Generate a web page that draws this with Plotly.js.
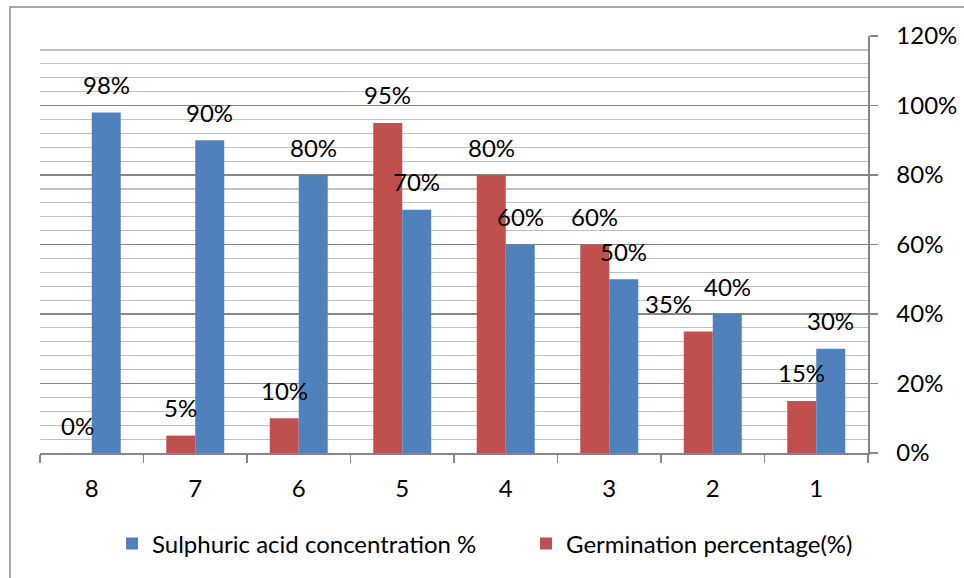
<!DOCTYPE html>
<html>
<head>
<meta charset="utf-8">
<script src="https://cdn.plot.ly/plotly-3.0.1.min.js"></script>
<style>
  html, body { margin: 0; padding: 0; background: #ffffff; }
  #chart { width: 964px; height: 578px; }
</style>
</head>
<body>
<div id="chart"></div>
<script>
// ---- data ----
const categories = ['8', '7', '6', '5', '4', '3', '2', '1'];
const germination = [0, 0.05, 0.10, 0.95, 0.80, 0.60, 0.35, 0.15];
const sulphuric = [0.98, 0.90, 0.80, 0.70, 0.60, 0.50, 0.40, 0.30];
const germinationName = 'Germination percentage(%)';
const sulphuricName = 'Sulphuric acid concentration %';
const yTickValues = [0, 0.2, 0.4, 0.6, 0.8, 1.0, 1.2];

// ---- style ----
const FONT = 'Lato, Open Sans, sans-serif';
const FS = 24;
const RED = '#C0504D';
const BLUE = '#4F81BD';
const BARGAP = 0.44;
const W = 964, H = 578;
const M = { l: 40, r: 96, t: 36, b: 125 };
const PW = W - M.l - M.r, PH = H - M.t - M.b;
const px2x = p => (p - M.l) / PW;
const px2y = p => (H - M.b - p) / PH;

const traces = [
  {
    type: 'bar', name: germinationName, x: categories, y: germination,
    marker: { color: RED }, legend: 'legend2', hoverinfo: 'x+y'
  },
  {
    type: 'bar', name: sulphuricName, x: categories, y: sulphuric,
    marker: { color: BLUE }, legend: 'legend', hoverinfo: 'x+y'
  }
];

// data labels above each bar
const off = (1 - BARGAP) / 4;
const annotations = [];
const pct = v => Math.round(v * 100) + '%';
categories.forEach((c, i) => {
  annotations.push({
    x: i - off, y: germination[i], xref: 'x', yref: 'y',
    text: pct(germination[i]), showarrow: false,
    xanchor: 'center', yanchor: 'middle', yshift: 28,
    xshift: (c === '2') ? -30 : 0,
    font: { family: FONT, size: FS, color: '#000' }
  });
  annotations.push({
    x: i + off, y: sulphuric[i], xref: 'x', yref: 'y',
    text: pct(sulphuric[i]), showarrow: false,
    xanchor: 'center', yanchor: 'middle', yshift: 28,
    font: { family: FONT, size: FS, color: '#000' }
  });
});

const legendBase = {
  orientation: 'h', xref: 'container', xanchor: 'left',
  yref: 'container', y: (H - 544) / H, yanchor: 'middle',
  font: { family: FONT, size: FS, color: '#000' },
  bgcolor: 'rgba(0,0,0,0)', borderwidth: 0
};

const layout = {
  width: W, height: H,
  margin: M,
  paper_bgcolor: '#ffffff', plot_bgcolor: '#ffffff',
  font: { family: FONT, size: FS, color: '#000' },
  barmode: 'group', bargap: BARGAP, bargroupgap: 0,
  showlegend: true,
  legend: Object.assign({}, legendBase, { x: 112 / W }),
  legend2: Object.assign({}, legendBase, { x: 526 / W }),
  xaxis: {
    type: 'category', showgrid: false, zeroline: false,
    showline: true, linecolor: '#868686', linewidth: 1.5,
    ticks: 'outside', tickson: 'boundaries', ticklen: 8, tickcolor: '#868686', tickwidth: 1.5,
    ticklabelstandoff: 14,
    tickfont: { family: FONT, size: FS, color: '#000' },
    fixedrange: true
  },
  yaxis: {
    side: 'right', range: [0, 1.2], tickvals: yTickValues, tickformat: '.0%',
    showgrid: true, gridcolor: '#868686', gridwidth: 1.2,
    minor: { dtick: 0.04, showgrid: true, gridcolor: '#c0c0c0', gridwidth: 1.2 },
    zeroline: false, showline: true, linecolor: '#868686', linewidth: 1.5,
    ticks: 'outside', ticklen: 8, tickcolor: '#868686', tickwidth: 1.5,
    ticklabelstandoff: 14,
    tickfont: { family: FONT, size: FS, color: '#000' },
    fixedrange: true
  },
  annotations: annotations,
  shapes: [{
    type: 'rect', xref: 'paper', yref: 'paper', layer: 'above',
    x0: px2x(10), x1: px2x(990), y0: px2y(600), y1: px2y(7),
    line: { color: '#8c8c8c', width: 1.5 }, fillcolor: 'rgba(0,0,0,0)'
  }]
};

Plotly.newPlot('chart', traces, layout, { displayModeBar: false, staticPlot: true });
</script>
</body>
</html>
